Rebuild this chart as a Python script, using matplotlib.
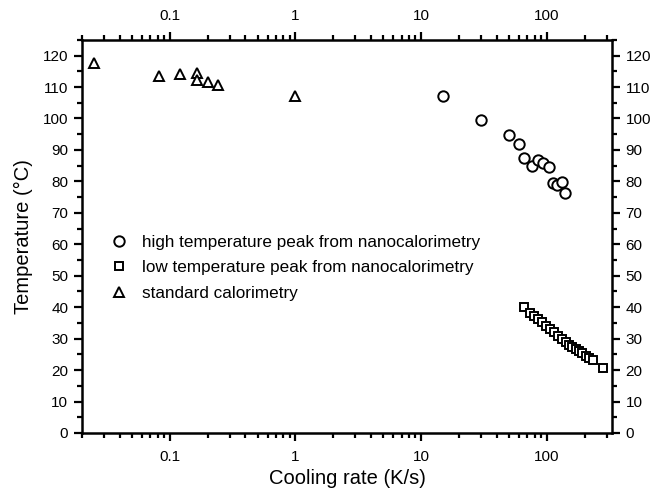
import numpy as np
import matplotlib
matplotlib.use("Agg")
import matplotlib.pyplot as plt
from matplotlib.ticker import LogLocator, MultipleLocator, FuncFormatter

plt.rcParams['font.family'] = ['Liberation Sans', 'DejaVu Sans']

# high temperature peak (nanocalorimetry)
high_rate = [15, 30, 50, 60, 66, 76, 85, 94, 104, 113, 121, 132, 141]
high_temp = [107.0, 99.5, 94.7, 91.9, 87.3, 84.8, 86.9, 85.9, 84.6, 79.5, 78.9, 79.7, 76.2]

# low temperature peak (nanocalorimetry)
low_rate = [66, 73, 79, 85, 92, 99, 106, 114, 123, 133, 142, 151, 160, 170,
            181, 192, 204, 216, 233, 280]
low_temp = [39.9, 38.2, 37.2, 36.1, 35.2, 34.0, 32.9, 32.0, 30.9, 29.9, 28.9,
            28.1, 27.4, 26.8, 26.0, 25.3, 24.6, 23.9, 23.2, 20.5]

# standard calorimetry
std_rate = [0.025, 0.082, 0.12, 0.165, 0.165, 0.2, 0.24, 1.0]
std_temp = [117.5, 113.4, 114.3, 114.6, 112.2, 111.5, 110.5, 107.3]

fig = plt.figure(figsize=(6.53, 4.92), dpi=100)
ax = fig.add_axes([0.1256, 0.120, 0.8114, 0.799])

mk = dict(linestyle='none', markerfacecolor='white', markeredgecolor='black',
          markeredgewidth=1.4, color='black')
ax.plot(high_rate, high_temp, marker='o', markersize=7.5, label='high temperature peak from nanocalorimetry', **mk)
ax.plot(low_rate, low_temp, marker='s', markersize=5.5, label='low temperature peak from nanocalorimetry', **mk)
ax.plot(std_rate, std_temp, marker='^', markersize=7.5, label='standard calorimetry', **mk)

ax.set_xscale('log')
ax.set_xlim(0.02, 330)
ax.set_ylim(0, 125)

ax.yaxis.set_major_locator(MultipleLocator(10))
ax.yaxis.set_minor_locator(MultipleLocator(5))
ax.xaxis.set_major_locator(LogLocator(base=10, numticks=10))
ax.xaxis.set_minor_locator(LogLocator(base=10, subs=np.arange(2, 10), numticks=10))
ax.xaxis.set_major_formatter(FuncFormatter(lambda v, p: f"{v:g}"))

for s in ax.spines.values():
    s.set_linewidth(1.8)

ax.tick_params(which='both', direction='out', top=True, right=True,
               labeltop=True, labelright=True, labelsize=11, width=1.6)
ax.tick_params(which='major', length=6)
ax.tick_params(which='minor', length=3.5)
ax.tick_params(axis='x', which='major', pad=6)
ax.tick_params(axis='y', which='major', pad=4)

ax.set_xlabel('Cooling rate (K/s)', fontsize=14.5, labelpad=4)
ax.set_ylabel('Temperature (°C)', fontsize=14.5, labelpad=7)

ax.legend(loc='upper left', bbox_to_anchor=(0.027, 0.535), frameon=False,
          fontsize=12.3, handletextpad=0.8, labelspacing=0.62, borderpad=0.2,
          handlelength=1.2)

fig.savefig('out.png', dpi=100)
